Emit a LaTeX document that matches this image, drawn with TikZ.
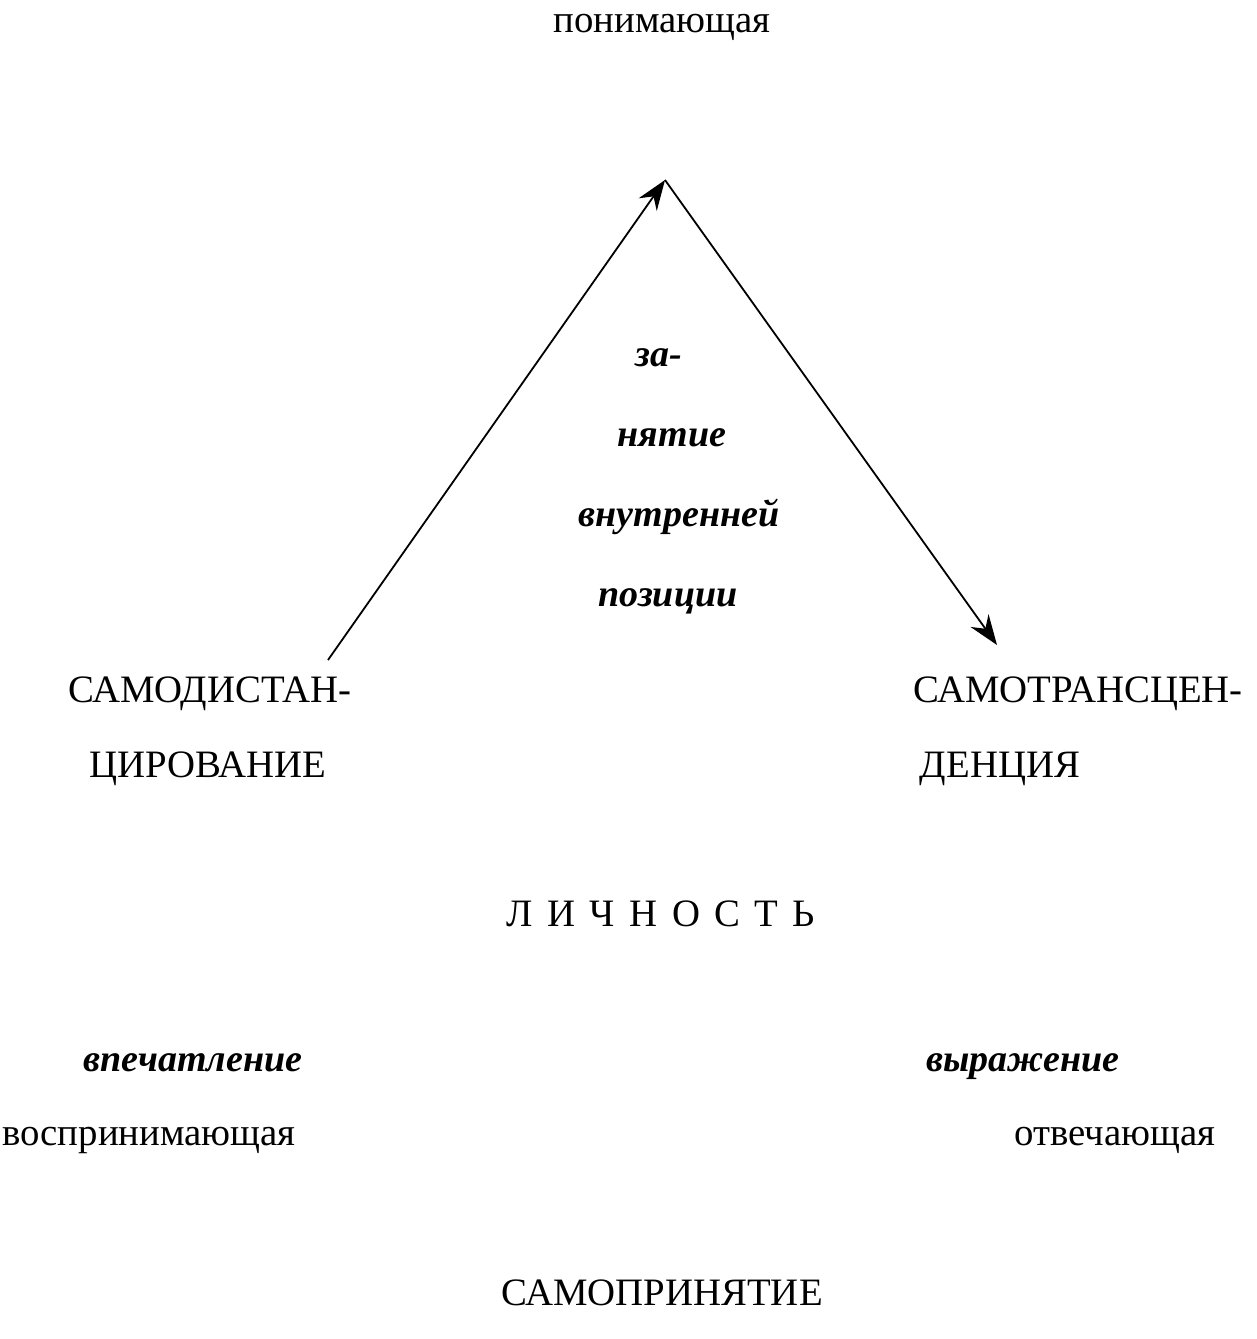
\documentclass[tikz,border=0pt]{standalone}
\usepackage{fontspec}
\setmainfont{Liberation Serif}
\usetikzlibrary{arrows.meta}
\begin{document}
\begin{tikzpicture}[x=0.5pt,y=-0.5pt,
  lbl/.style={inner sep=0pt,anchor=base,font=\fontsize{19.4}{23}\selectfont},
  emph/.style={inner sep=0pt,anchor=base,font=\fontsize{19}{23}\selectfont\bfseries\itshape},
  arr/.style={line width=0.9pt,-{Stealth[length=15pt,width=11pt,inset=5pt]}}]
\useasboundingbox (0,0) rectangle (1257,1339);
\node[lbl] (top) at (662,32) {понимающая};
\coordinate (apex) at (665,180);
\coordinate (ls) at (328,660);
\coordinate (re) at (997,645);
\node[emph] (z1) at (659,366) {за-};
\node[emph] (z2) at (672,446) {нятие};
\node[emph] (z3) at (679,526) {внутренней};
\node[emph] (z4) at (668,606) {позиции};
\node[lbl] (l1) at (210,702) {САМОДИСТАН-};
\node[lbl] (l2) at (208,777) {ЦИРОВАНИЕ};
\node[lbl] (r1) at (1078,702) {САМОТРАНСЦЕН-};
\node[lbl] (r2) at (1000,777) {ДЕНЦИЯ};
\node[lbl] (lich) at (661,926) {Л\hspace{7.2pt}И\hspace{7.2pt}Ч\hspace{7.2pt}Н\hspace{7.2pt}О\hspace{7.2pt}С\hspace{7.2pt}Т\hspace{7.2pt}Ь};
\node[emph] (vp) at (193,1071) {впечатление};
\node[emph] (vy) at (1023,1071) {выражение};
\node[lbl] (vo) at (149,1145) {воспринимающая};
\node[lbl] (ot) at (1115,1145) {отвечающая};
\node[lbl] (sp) at (662,1305) {САМОПРИНЯТИЕ};
\draw[arr] (ls) -- (apex);
\draw[arr] (apex) -- (re);
\end{tikzpicture}
\end{document}
